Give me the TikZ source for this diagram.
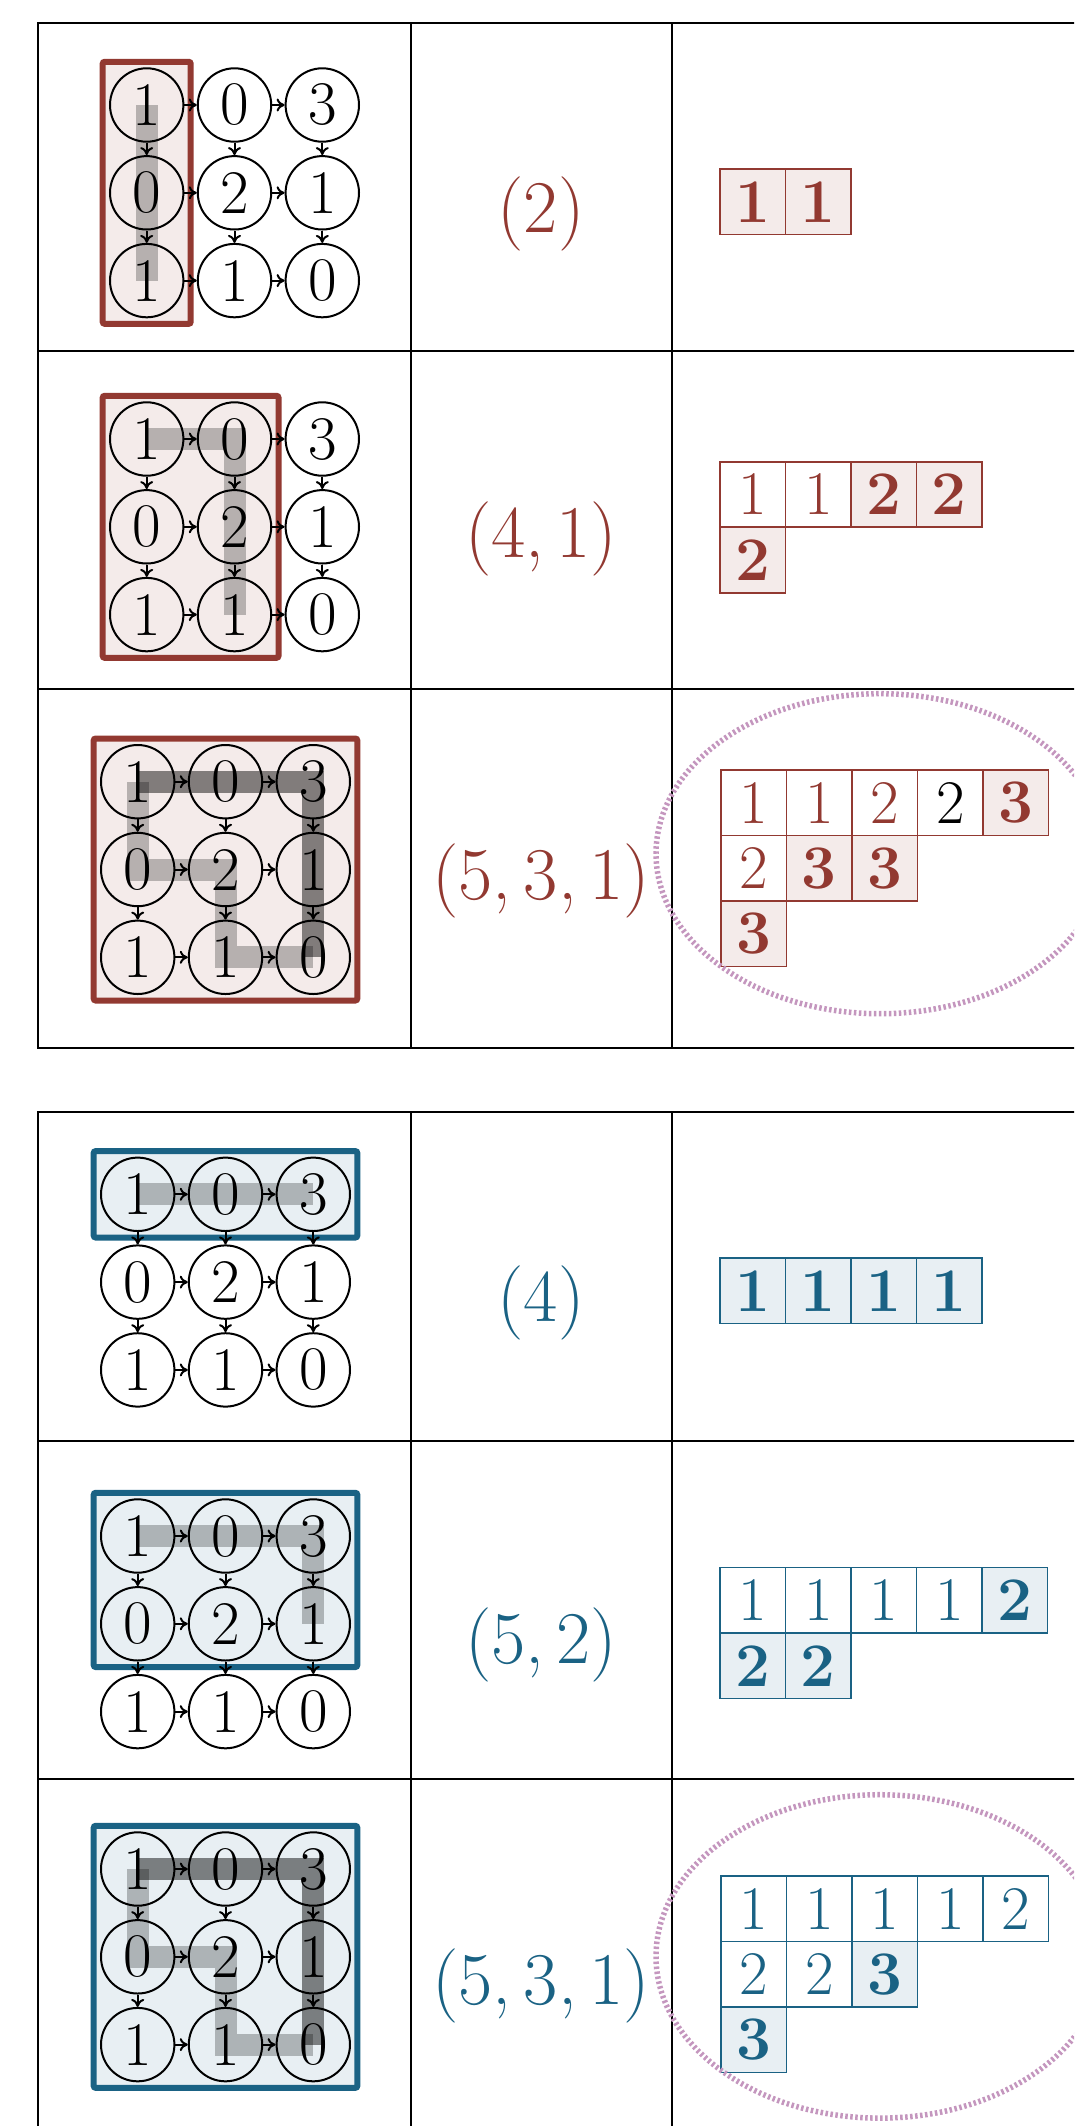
\documentclass[tikz,border=0pt]{standalone}
\usetikzlibrary{fit,arrows.meta}
\definecolor{myred}{RGB}{146,57,49}
\definecolor{myblue}{RGB}{26,98,132}
\definecolor{ellcol}{RGB}{196,150,190}
\pgfdeclarelayer{boxes}
\pgfdeclarelayer{paths}
\pgfsetlayers{boxes,paths,main}
\newcommand{\fsz}{\fontsize{62}{66}\selectfont}
\newcommand{\lsz}{\fontsize{74.4}{80}\selectfont}
\tikzset{
 circ/.style={circle, draw, line width=2pt, minimum size=73.4pt, inner sep=0pt, font=\fsz},
 arr/.style={line width=2pt, -{To[length=8pt,width=13pt]}},
 rbox/.style={draw=myred, fill=myred!10, line width=6pt, rounded corners=2pt, inner xsep=6.3pt, inner ysep=5.5pt},
 bbox/.style={draw=myblue, fill=myblue!10, line width=6pt, rounded corners=2pt, inner xsep=6.3pt, inner ysep=5.5pt},
 lpath/.style={line width=22pt, black, opacity=0.25},
 dpath/.style={line width=22pt, black, opacity=0.47},
 tbl/.style={line width=2.5pt, line cap=rect},
 cellR/.style={draw=myred, line width=1.6pt, minimum size=65.5pt, inner sep=0pt, text=myred, font=\fsz},
 hcellR/.style={cellR, fill=myred!10, font=\fsz\bfseries},
 cellB/.style={draw=myblue, line width=1.6pt, minimum size=65.5pt, inner sep=0pt, text=myblue, font=\fsz},
 hcellB/.style={cellB, fill=myblue!10, font=\fsz\bfseries},
 lab/.style={inner sep=0pt, font=\lsz},
 ell/.style={draw=ellcol, line width=5.5pt, dash pattern=on 2.5pt off 2.5pt},
}
\newcommand{\drawgrid}[3]{%
 \begin{scope}[shift={(#2,#3)}]
  \node[circ] (#1n11) at (0,0) {1};
  \node[circ] (#1n12) at (87.8,0) {0};
  \node[circ] (#1n13) at (175.6,0) {3};
  \node[circ] (#1n21) at (0,87.8) {0};
  \node[circ] (#1n22) at (87.8,87.8) {2};
  \node[circ] (#1n23) at (175.6,87.8) {1};
  \node[circ] (#1n31) at (0,175.6) {1};
  \node[circ] (#1n32) at (87.8,175.6) {1};
  \node[circ] (#1n33) at (175.6,175.6) {0};
 \end{scope}
 \foreach \ii in {1,2,3}{%
  \draw[arr] (#1n\ii1) -- (#1n\ii2);
  \draw[arr] (#1n\ii2) -- (#1n\ii3);
  \draw[arr] (#1n1\ii) -- (#1n2\ii);
  \draw[arr] (#1n2\ii) -- (#1n3\ii);
 }%
}
\begin{document}
\begin{tikzpicture}[x=1pt,y=-1pt]
\useasboundingbox (0,0) rectangle (1074,2126);
\clip (0,0) rectangle (1074,2126);

% ---------- table lines ----------
\draw[tbl] (1080,23) -- (38,23) -- (38,1048) -- (1080,1048);
\draw[tbl] (38,351) -- (1080,351);
\draw[tbl] (38,689) -- (1080,689);
\draw[tbl] (411,23) -- (411,1048);
\draw[tbl] (672,23) -- (672,1048);
\draw[tbl] (1080,1112) -- (38,1112) -- (38,2140);
\draw[tbl] (38,1441) -- (1080,1441);
\draw[tbl] (38,1779) -- (1080,1779);
\draw[tbl] (411,1112) -- (411,2140);
\draw[tbl] (672,1112) -- (672,2140);

% ---------- grids ----------
\drawgrid{A}{146.7}{105}
\drawgrid{B}{146.7}{439}
\drawgrid{C}{137.7}{781.7}
\drawgrid{D}{137.7}{1194.3}
\drawgrid{E}{137.7}{1536}
\drawgrid{F}{137.7}{1869}

\begin{pgfonlayer}{boxes}
 \node[rbox, fit=(An11)(An31)] (boxA) {};
 \node[rbox, fit=(Bn11)(Bn32)] (boxB) {};
 \node[rbox, fit=(Cn11)(Cn33)] (boxC) {};
 \node[bbox, fit=(Dn11)(Dn13)] (boxD) {};
 \node[bbox, fit=(En11)(En23)] (boxE) {};
 \node[bbox, fit=(Fn11)(Fn33)] (boxF) {};
\end{pgfonlayer}

\begin{pgfonlayer}{paths}
 \draw[lpath] (An11.center) -- (An31.center);
 \draw[lpath] (Bn11.center) -- (Bn12.center) -- (Bn32.center);
 \draw[dpath] (Cn11.center) -- (Cn13.center) -- (Cn33.center);
 \draw[lpath] (Cn11.center) -- (Cn21.center) -- (Cn22.center) -- (Cn32.center) -- (Cn33.center);
 \draw[lpath] (Dn11.center) -- (Dn13.center);
 \draw[lpath] (En11.center) -- (En13.center) -- (En23.center);
 \draw[dpath] (Fn11.center) -- (Fn13.center) -- (Fn33.center);
 \draw[lpath] (Fn11.center) -- (Fn21.center) -- (Fn22.center) -- (Fn32.center) -- (Fn33.center);
\end{pgfonlayer}

% ---------- labels ----------
\node[lab, text=myred] (la) at (541,214) {(2)};
\node[lab, text=myred] (lb) at (541,539) {(4,\,1)};
\node[lab, text=myred] (lc) at (541,881) {(5,\,3,\,1)};
\node[lab, text=myblue] (ld) at (541,1303) {(4)};
\node[lab, text=myblue] (le) at (541,1645) {(5,\,2)};
\node[lab, text=myblue] (lf) at (541,1986) {(5,\,3,\,1)};

% ---------- tableaux ----------
\begin{scope}[shift={(720,169)}]
 \node[hcellR] (pa11) at (32.75,32.75) {1};
 \node[hcellR] (pa12) at (98.25,32.75) {1};
\end{scope}
\begin{scope}[shift={(720,461.7)}]
 \node[cellR] (pb11) at (32.75,32.75) {1};
 \node[cellR] (pb12) at (98.25,32.75) {1};
 \node[hcellR] (pb13) at (163.75,32.75) {2};
 \node[hcellR] (pb14) at (229.25,32.75) {2};
 \node[hcellR] (pb21) at (32.75,98.25) {2};
\end{scope}
\begin{scope}[shift={(721,770)}]
 \node[cellR] (pc11) at (32.75,32.75) {1};
 \node[cellR] (pc12) at (98.25,32.75) {1};
 \node[cellR] (pc13) at (163.75,32.75) {2};
 \node[cellR, text=black] (pc14) at (229.25,32.75) {2};
 \node[hcellR] (pc15) at (294.75,32.75) {3};
 \node[cellR] (pc21) at (32.75,98.25) {2};
 \node[hcellR] (pc22) at (98.25,98.25) {3};
 \node[hcellR] (pc23) at (163.75,98.25) {3};
 \node[hcellR] (pc31) at (32.75,163.75) {3};
\end{scope}
\begin{scope}[shift={(720,1258)}]
 \node[hcellB] (pd11) at (32.75,32.75) {1};
 \node[hcellB] (pd12) at (98.25,32.75) {1};
 \node[hcellB] (pd13) at (163.75,32.75) {1};
 \node[hcellB] (pd14) at (229.25,32.75) {1};
\end{scope}
\begin{scope}[shift={(720,1567.5)}]
 \node[cellB] (pe11) at (32.75,32.75) {1};
 \node[cellB] (pe12) at (98.25,32.75) {1};
 \node[cellB] (pe13) at (163.75,32.75) {1};
 \node[cellB] (pe14) at (229.25,32.75) {1};
 \node[hcellB] (pe15) at (294.75,32.75) {2};
 \node[hcellB] (pe21) at (32.75,98.25) {2};
 \node[hcellB] (pe22) at (98.25,98.25) {2};
\end{scope}
\begin{scope}[shift={(721,1876)}]
 \node[cellB] (pf11) at (32.75,32.75) {1};
 \node[cellB] (pf12) at (98.25,32.75) {1};
 \node[cellB] (pf13) at (163.75,32.75) {1};
 \node[cellB] (pf14) at (229.25,32.75) {1};
 \node[cellB] (pf15) at (294.75,32.75) {2};
 \node[cellB] (pf21) at (32.75,98.25) {2};
 \node[cellB] (pf22) at (98.25,98.25) {2};
 \node[hcellB] (pf23) at (163.75,98.25) {3};
 \node[hcellB] (pf31) at (32.75,163.75) {3};
\end{scope}

% ---------- dotted ellipses ----------
\draw[ell] (880,853.7) ellipse [x radius=224pt, y radius=160pt];
\draw[ell] (880,1956.4) ellipse [x radius=224pt, y radius=161.7pt];
\end{tikzpicture}
\end{document}
